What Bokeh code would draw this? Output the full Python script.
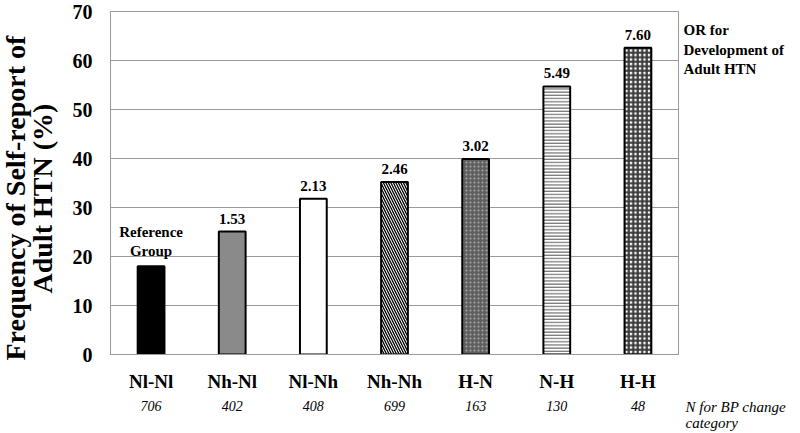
from bokeh.plotting import figure
from bokeh.models import (ColumnDataSource, Range1d, LabelSet,
                          FixedTicker, LinearAxis, Title)
from bokeh.embed import file_html
from bokeh.resources import INLINE

# ---- data ----
categories = ["Nl-Nl", "Nh-Nl", "Nl-Nh", "Nh-Nh", "H-N", "N-H", "H-H"]
frequency = [18.0, 25.1, 31.8, 35.2, 39.9, 54.7, 62.6]
odds_ratio = ["", "1.53", "2.13", "2.46", "3.02", "5.49", "7.60"]
n_counts = ["706", "402", "408", "699", "163", "130", "48"]
y_ticks = [0, 10, 20, 30, 40, 50, 60, 70]
or_note = ["OR for", "Development of", "Adult HTN"]
n_note = "N for BP change\ncategory"

# ---- styles ----
fills = ["black", "#8a8a8a", "white", "white", "#606060", "white", "white"]
hatches = [" ", " ", " ", "\\", ".", "-", "+"]
hatch_colors = ["black", "black", "black", "black", "#a8a8a8", "#7a7a7a", "#3a3a3a"]
hatch_scales = [6, 6, 6, 5, 4, 3.2, 4.5]
hatch_weights = [1, 1, 1, 1.3, 1, 1.4, 2.2]
or_note_pos = [66.3, 62.1, 58.2]   # vertical placement of the note lines (axis units)

SERIF = "Liberation Serif"
GRID = "#9a9a9a"

# category slots: one unit per category, bar in the middle of its slot
xpos = [i + 0.5 for i in range(len(categories))]

src = ColumnDataSource(dict(
    x=xpos, cat=categories, freq=frequency, fill=fills, hatch=hatches,
    hcolor=hatch_colors, hscale=hatch_scales, hweight=hatch_weights,
))

p = figure(
    x_range=Range1d(0, len(categories)),
    y_range=Range1d(0, 70),
    width=800, height=433,
    min_border_left=110, min_border_right=122,
    min_border_top=11, min_border_bottom=79,
    output_backend="svg", toolbar_location=None,
)
p.outline_line_color = GRID
p.outline_line_width = 1

p.vbar(x="x", top="freq", width=0.33, source=src,
       fill_color="fill", hatch_pattern="hatch", hatch_color="hcolor",
       hatch_scale="hscale", hatch_weight="hweight",
       line_color="black", line_width=2)

# y axis
p.yaxis.ticker = FixedTicker(ticks=y_ticks)
p.yaxis.major_label_text_font = SERIF
p.yaxis.major_label_text_font_style = "bold"
p.yaxis.major_label_text_font_size = "20px"
p.yaxis.major_label_text_color = "black"
p.yaxis.major_label_standoff = 18
p.yaxis.major_tick_out = 0
p.yaxis.major_tick_line_color = None
p.yaxis.minor_tick_line_color = None
p.yaxis.axis_line_color = GRID

# category axis
p.xaxis.ticker = FixedTicker(ticks=xpos)
p.xaxis.major_label_overrides = {x: c for x, c in zip(xpos, categories)}
p.xaxis.major_label_text_font = SERIF
p.xaxis.major_label_text_font_style = "bold"
p.xaxis.major_label_text_font_size = "19px"
p.xaxis.major_label_text_color = "black"
p.xaxis.major_label_standoff = 16
p.xaxis.major_tick_out = 0
p.xaxis.major_tick_line_color = None
p.xaxis.minor_tick_line_color = None
p.xaxis.axis_line_color = GRID

# N counts axis (second row under the categories)
count_axis = LinearAxis(
    ticker=FixedTicker(ticks=xpos),
    major_label_overrides={x: n for x, n in zip(xpos, n_counts)},
    major_label_text_font=SERIF, major_label_text_font_style="italic",
    major_label_text_font_size="14px", major_label_text_color="black",
    major_label_standoff=6, major_tick_out=0,
    major_tick_line_color=None, minor_tick_line_color=None,
    axis_line_color=None,
)
p.add_layout(count_axis, "below")

# right-hand note "OR for Development of Adult HTN"
note_axis = LinearAxis(
    ticker=FixedTicker(ticks=or_note_pos),
    major_label_overrides={pos: t for pos, t in zip(or_note_pos, or_note)},
    major_label_text_font=SERIF, major_label_text_font_style="bold",
    major_label_text_font_size="15px", major_label_text_color="black",
    major_label_standoff=5, major_tick_out=0,
    major_tick_line_color=None, minor_tick_line_color=None,
    axis_line_color=None,
)
p.add_layout(note_axis, "right")

# bottom-right note "N for BP change category"
p.add_layout(Title(text=n_note, align="left", offset=575, standoff=-30,
                   vertical_align="top", text_font=SERIF, text_font_style="italic",
                   text_font_size="15px", text_color="black"), "below")

p.xgrid.grid_line_color = None
p.ygrid.grid_line_color = GRID
p.ygrid.grid_line_width = 1

# value labels (OR) above bars
lab_src = ColumnDataSource(dict(x=xpos[1:], y=frequency[1:], text=odds_ratio[1:]))
p.add_layout(LabelSet(x="x", y="y", text="text", source=lab_src,
                      y_offset=8, text_align="center", text_baseline="bottom",
                      text_font=SERIF, text_font_style="bold",
                      text_font_size="15px", text_color="black"))

# reference group label
ref_src = ColumnDataSource(dict(
    x=[xpos[0], xpos[0]], y=[frequency[0], frequency[0]],
    text=["Reference", "Group"], yoff=[26, 7],
))
p.add_layout(LabelSet(x="x", y="y", text="text", source=ref_src,
                      y_offset="yoff", text_align="center", text_baseline="bottom",
                      text_font=SERIF, text_font_style="bold",
                      text_font_size="15px", text_color="black"))

# y axis title: two rotated lines
t2 = Title(text="Adult HTN (%)", align="left", offset=61, standoff=20, vertical_align="top",
           text_font=SERIF, text_font_style="bold", text_font_size="28px", text_color="black")
t1 = Title(text="Frequency of  Self-report of", align="left", offset=-6, standoff=-29,
           vertical_align="bottom",
           text_font=SERIF, text_font_style="bold", text_font_size="28px", text_color="black")
p.add_layout(t2, "left")
p.add_layout(t1, "left")

open("out.html", "w").write(file_html(p, INLINE))
